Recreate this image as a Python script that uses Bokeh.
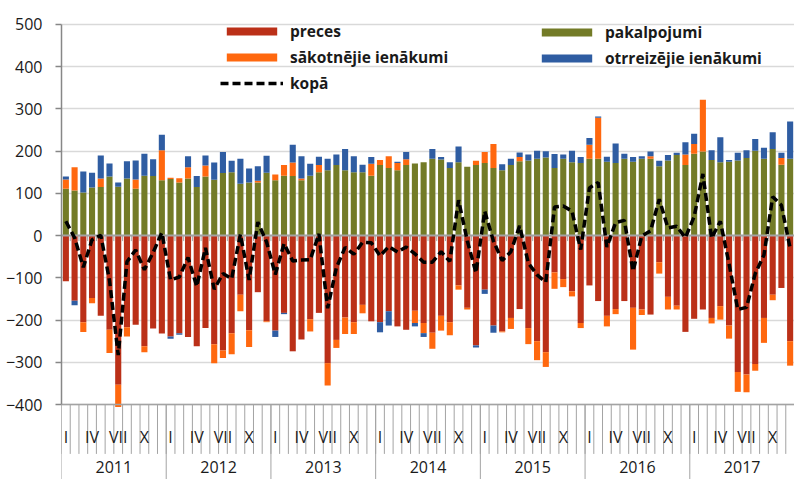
import numpy as np
from bokeh.plotting import figure
from bokeh.models import Range1d, FixedTicker, Legend, LegendItem, ColumnDataSource
from bokeh.core.properties import value
from bokeh.embed import file_html
from bokeh.resources import INLINE

years = ["2011", "2012", "2013", "2014", "2015", "2016", "2017"]
month_labels = ["I", "", "", "IV", "", "", "VII", "", "", "X", "", ""]

preces = [
    -108, -154, -205, -148, -190, -223, -353, -217, -211, -262, -220, -232,
    -239, -231, -240, -262, -219, -257, -272, -231, -140, -224, -134, -203,
    -225, -183, -274, -246, -198, -183, -302, -247, -194, -205, -164, -203,
    -205, -179, -215, -223, -178, -207, -230, -190, -205, -118, -171, -260,
    -128, -213, -227, -195, -174, -219, -250, -276, -87, -103, -132, -207,
    -118, -155, -190, -174, -155, -171, -175, -187, -63, -145, -166, -228,
    -197, -175, -195, -167, -213, -323, -329, -304, -195, -140, -124, -250,
]
pakalpojumi = [
    111, 107, 102, 114, 115, 140, 116, 135, 111, 142, 141, 131,
    134, 126, 135, 115, 140, 132, 148, 150, 123, 126, 126, 149,
    131, 142, 141, 131, 142, 150, 155, 167, 155, 150, 150, 142,
    167, 160, 155, 167, 171, 174, 182, 180, 160, 174, 163, 167,
    172, 160, 155, 167, 176, 178, 182, 185, 160, 182, 174, 172,
    182, 182, 175, 172, 182, 175, 182, 182, 164, 178, 191, 167,
    194, 199, 179, 174, 175, 178, 184, 201, 182, 205, 168, 182,
]
sakotnejie = [
    22, 55, -23, -12, 20, -55, -53, -22, 22, -14, 0, 71,
    3, 10, 27, 0, 26, -45, -18, -50, -39, -40, 4, -2,
    14, 25, 32, 4, -29, 17, -53, -19, -39, -28, -20, 28,
    12, 28, 17, 14, -29, -24, -38, -35, -31, -10, -4, 10,
    26, 57, -2, -26, 10, -38, -45, -35, -39, -19, -12, -12,
    33, 97, -25, -12, 0, -99, -13, 6, -27, -30, -9, 25,
    23, 123, -13, -32, -31, -47, -42, -16, -59, -13, 16, -58,
]
otrreizejie = [
    7, -11, 50, 35, 55, 31, 10, 41, 45, 52, 40, 37,
    -5, -4, 26, 26, 24, 41, 50, 27, 59, 33, 34, 40,
    -15, -3, 42, 53, 28, 20, 27, 25, 50, 38, 18, 16,
    -24, -34, 3, 17, -8, -9, 23, 6, 14, 37, 0, -5,
    -10, -17, 14, 15, 11, 14, 19, 15, 33, 10, 27, 14,
    16, 3, 12, 46, 12, 11, 6, 11, 13, 13, 5, 29,
    24, 0, 23, 59, 4, 18, 18, 28, 26, 40, 12, 88,
]
kopa = [
    34, -5, -75, -10, 1, -106, -283, -62, -34, -81, -40, 7,
    -105, -98, -52, -120, -29, -127, -90, -102, 3, -105, 32, -15,
    -92, -19, -60, -58, -57, 4, -172, -76, -28, -44, -16, -17,
    -48, -26, -39, -27, -43, -63, -63, -38, -61, 84, -12, -88,
    58, -13, -59, -38, 23, -65, -93, -110, 68, 70, 58, -33,
    113, 126, -27, 31, 36, -84, -1, 11, 86, 18, 22, -5,
    45, 146, -6, 34, -67, -175, -170, -90, -46, 92, 72, -30,
]

names = ["preces", "pakalpojumi", "sākotnējie ienākumi", "otrreizējie ienākumi"]
colors = ["#bb3018", "#737b27", "#ff680f", "#2f5da2"]
series = [preces, pakalpojumi, sakotnejie, otrreizejie]

n = len(preces)
xc = np.arange(n) + 0.5

FONT = "Open Sans"
W, H = 794, 479
p = figure(width=W, height=H, x_range=Range1d(0, n), y_range=Range1d(-577.6, 556.8),
           output_backend="svg", toolbar_location=None, x_axis_location=None,
           min_border_left=61, min_border_right=0, min_border_top=0, min_border_bottom=0)
p.outline_line_color = None
p.background_fill_color = "white"
p.xgrid.visible = False

yticks = list(range(-400, 501, 100))
p.ygrid.ticker = FixedTicker(ticks=yticks)
p.ygrid.grid_line_color = "#d9d9d9"
p.ygrid.grid_line_width = 1.5
p.yaxis.ticker = FixedTicker(ticks=yticks)
p.yaxis.bounds = (-400, 500)
p.yaxis.axis_line_color = "#878787"
p.yaxis.axis_line_width = 1.5
p.yaxis.major_tick_line_color = "#878787"
p.yaxis.major_tick_line_width = 1.5
p.yaxis.major_tick_out = 6
p.yaxis.major_tick_in = 0
p.yaxis.minor_tick_line_color = None
p.yaxis.major_label_text_font = FONT
p.yaxis.major_label_text_font_size = "16px"
p.yaxis.major_label_text_color = "#1a1a1a"
p.yaxis.major_label_standoff = 13

# stacked bars (positives stack upward, negatives downward, in series order)
pos = np.zeros(n)
neg = np.zeros(n)
bar_renderers = []
for s, c in zip(series, colors):
    s = np.array(s, dtype=float)
    bottom = np.where(s >= 0, pos, neg + s)
    top = np.where(s >= 0, pos + s, neg)
    pos = np.where(s >= 0, pos + s, pos)
    neg = np.where(s < 0, neg + s, neg)
    src = ColumnDataSource(dict(x=xc, bottom=bottom, top=top))
    r = p.vbar(x="x", width=0.7, bottom="bottom", top="top", source=src,
               fill_color=c, line_color=None)
    bar_renderers.append(r)

# horizontal axis at zero with small ticks
bounds = np.arange(n + 1)
p.segment(x0=[0], y0=[0], x1=[n], y1=[0], line_color="#a3a3a3", line_width=2)
p.segment(x0=bounds, y0=np.zeros(n + 1), x1=bounds, y1=np.full(n + 1, -13),
          line_color="#a3a3a3", line_width=1)

# total line
line_r = p.line(xc, kopa, line_color="black", line_width=3.5, line_dash="8 4")

# category axis at the bottom
p.segment(x0=[0], y0=[-400], x1=[n], y1=[-400], line_color="#a3a3a3", line_width=1.5)
p.segment(x0=bounds, y0=np.full(n + 1, -400), x1=bounds, y1=np.full(n + 1, -517),
          line_color="#a3a3a3", line_width=1)
ybounds = np.arange(0, n + 1, 12)
p.segment(x0=ybounds, y0=np.full(len(ybounds), -400), x1=ybounds,
          y1=np.full(len(ybounds), -577), line_color="#a3a3a3", line_width=1)

mtext = [month_labels[i % 12] for i in range(n)]
p.text(x=xc, y=np.full(n, -476), text=mtext, text_align="center", text_baseline="middle",
       text_font=value(FONT), text_font_size="16px", text_color="#1a1a1a")
p.text(x=np.arange(len(years)) * 12 + 6, y=np.full(len(years), -547), text=years,
       text_align="center", text_baseline="middle",
       text_font=value(FONT), text_font_size="16px", text_color="#1a1a1a")

leg1 = Legend(items=[LegendItem(label=names[0], renderers=[bar_renderers[0]]),
                     LegendItem(label=names[2], renderers=[bar_renderers[2]]),
                     LegendItem(label="kopā", renderers=[line_r])],
              location=(159, 385))
leg2 = Legend(items=[LegendItem(label=names[1], renderers=[bar_renderers[1]]),
                     LegendItem(label=names[3], renderers=[bar_renderers[3]])],
              location=(474, 410))
for leg in (leg1, leg2):
    leg.glyph_width = 63
    leg.glyph_height = 10
    leg.label_height = 21
    leg.spacing = 4
    leg.padding = 0
    leg.margin = 0
    leg.label_standoff = 7
    leg.label_text_font = FONT
    leg.label_text_font_style = "bold"
    leg.label_text_font_size = "15.5px"
    leg.label_text_color = "#1a1a1a"
    leg.border_line_color = None
    leg.background_fill_alpha = 0
    p.add_layout(leg, "center")

open("out.html", "w").write(file_html(p, INLINE))
